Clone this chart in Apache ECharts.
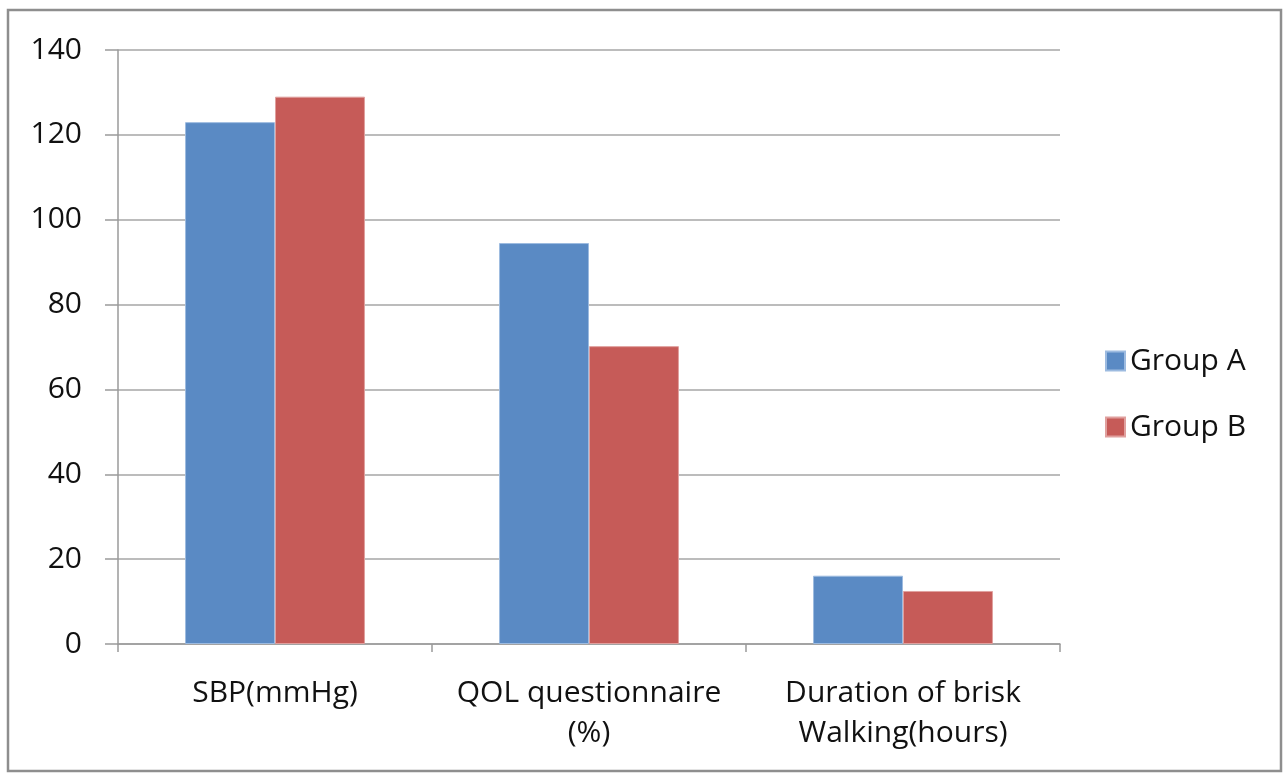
<!DOCTYPE html>
<html><head><meta charset="utf-8">
<script src="https://cdn.jsdelivr.net/npm/echarts@6/dist/echarts.min.js"></script>
<style>html,body{margin:0;padding:0;background:#fff}#c{width:1285px;height:774px}</style>
</head><body><div id="c"></div>
<script>
var categories = ['SBP(mmHg)', 'QOL questionnaire\n(%)', 'Duration of brisk\nWalking(hours)'];
var groupA = [123, 94.5, 16.1];
var groupB = [129, 70.2, 12.5];
var yTicks = {min: 0, max: 140, interval: 20};

var chart = echarts.init(document.getElementById('c'), null, {renderer: 'canvas'});
var font = 'Open Sans';
chart.setOption({
  animation: false,
  backgroundColor: '#fff',
  graphic: [{type: 'rect', shape: {x: 8, y: 10, width: 1273, height: 761}, style: {fill: 'none', stroke: '#8e8e8e', lineWidth: 2.5}, z: 100}],
  grid: {left: 118, right: 225, top: 50, bottom: 130},
  legend: {
    orient: 'vertical', left: 1100, top: 341, itemWidth: 19, itemHeight: 19, itemGap: 36,
    icon: 'rect',
    textStyle: {fontFamily: font, fontSize: 30, color: '#111', padding: [0, 0, 0, 0]},
    data: ['Group A', 'Group B']
  },
  xAxis: {
    type: 'category', data: categories,
    axisLine: {lineStyle: {color: '#9a9a9a', width: 1.5}},
    axisTick: {show: true, length: 8, lineStyle: {color: '#9a9a9a', width: 1.5}},
    axisLabel: {interval: 0, hideOverlap: false, fontFamily: font, fontSize: 30, color: '#111', lineHeight: 40, margin: 29}
  },
  yAxis: {
    type: 'value', min: yTicks.min, max: yTicks.max, interval: yTicks.interval,
    axisLine: {show: true, lineStyle: {color: '#9a9a9a', width: 1.5}},
    axisTick: {show: true, length: 13, lineStyle: {color: '#9a9a9a', width: 1.5}},
    splitLine: {lineStyle: {color: '#a6a6a6', width: 1.5}},
    axisLabel: {fontFamily: font, fontSize: 30, color: '#111', margin: 36}
  },
  series: [
    {name: 'Group A', type: 'bar', data: groupA, barGap: '0%', barCategoryGap: '42.7%',
     itemStyle: {color: '#5A8AC4', borderColor: '#9dbbe0', borderWidth: 1}},
    {name: 'Group B', type: 'bar', data: groupB,
     itemStyle: {color: '#C65B58', borderColor: '#e0a09e', borderWidth: 1}}
  ]
});
</script></body></html>
